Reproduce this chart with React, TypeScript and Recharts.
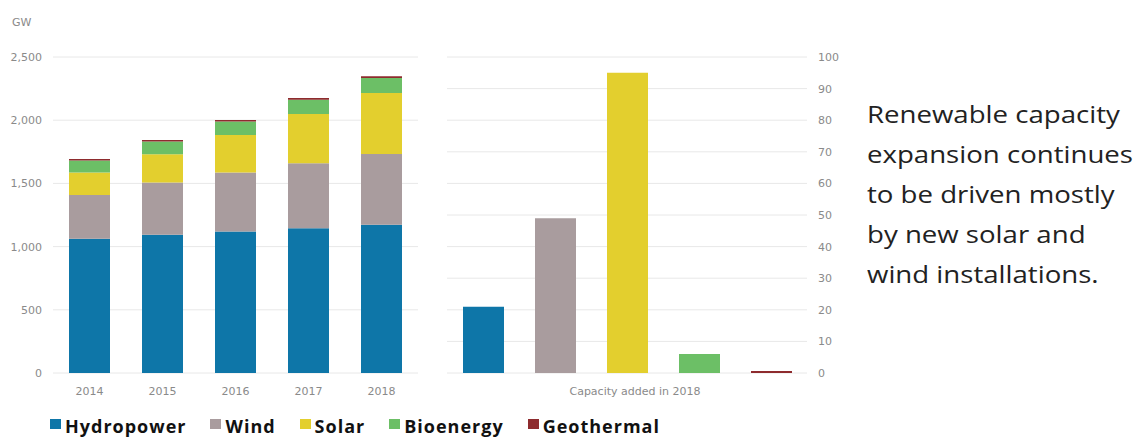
import { BarChart, Bar, XAxis, YAxis, CartesianGrid } from 'recharts'

const years = ['2014', '2015', '2016', '2017', '2018']
const hydropower = [1062, 1093, 1120, 1146, 1172]
const wind = [347, 414, 467, 513, 560]
const solar = [177, 224, 296, 390, 484]
const bioenergy = [95, 100, 106, 112, 118]
const geothermal = [12, 13, 13, 14, 14]

// GW added during 2018, same order as the series list
const addedLabel = 'Capacity added in 2018'
const added2018 = [21, 49, 95, 6, 0.6]

const totalTicks = [0, 500, 1000, 1500, 2000, 2500]
const addedTicks = [0, 10, 20, 30, 40, 50, 60, 70, 80, 90, 100]

const series = [
  { key: 'hydropower', name: 'Hydropower', color: '#0E76A8', values: hydropower },
  { key: 'wind', name: 'Wind', color: '#A99C9E', values: wind },
  { key: 'solar', name: 'Solar', color: '#E3CF2E', values: solar },
  { key: 'bioenergy', name: 'Bioenergy', color: '#6CBF66', values: bioenergy },
  { key: 'geothermal', name: 'Geothermal', color: '#8E2B2E', values: geothermal },
]

const totalData = years.map((year, i) => {
  const row: Record<string, string | number> = { year }
  series.forEach((s) => (row[s.key] = s.values[i]))
  return row
})

const addedRow: Record<string, string | number> = { label: addedLabel }
series.forEach((s, i) => (addedRow[s.key] = added2018[i]))
const addedData = [addedRow]

const tickStyle = { fill: '#8a8a8a', fontSize: 11, fontFamily: 'DejaVu Sans' }
const gridColor = '#e8e8e8'

const note = [
  'Renewable capacity',
  'expansion continues',
  'to be driven mostly',
  'by new solar and',
  'wind installations.',
]

export default function App() {
  return (
    <div
      style={{
        position: 'absolute',
        left: 0,
        top: 0,
        width: 1137,
        height: 439,
        background: '#fff',
        overflow: 'hidden',
      }}
    >
      <div
        style={{
          position: 'absolute',
          left: 12,
          top: 16,
          ...tickStyle,
          color: '#8a8a8a',
        }}
      >
        GW
      </div>

      <div style={{ position: 'absolute', left: 0, top: 0 }}>
        <BarChart
          width={420}
          height={410}
          data={totalData}
          margin={{ top: 57, right: 2, left: 0, bottom: 7 }}
        >
          <CartesianGrid vertical={false} stroke={gridColor} />
          <XAxis
            dataKey="year"
            tickLine={false}
            axisLine={false}
            tickMargin={8}
            height={30}
            tick={tickStyle}
          />
          <YAxis
            domain={[0, 2500]}
            ticks={totalTicks}
            width={53}
            tickLine={false}
            axisLine={false}
            tickMargin={5}
            tick={tickStyle}
            tickFormatter={(v: number) => v.toLocaleString('en-US')}
          />
          {series.map((s) => (
            <Bar
              key={s.key}
              dataKey={s.key}
              name={s.name}
              stackId="total"
              fill={s.color}
              barSize={41}
              isAnimationActive={false}
            />
          ))}
        </BarChart>
      </div>

      <div style={{ position: 'absolute', left: 447, top: 0 }}>
        <BarChart
          width={400}
          height={410}
          data={addedData}
          barGap={31}
          margin={{ top: 57, right: 0, left: 0, bottom: 7 }}
        >
          <CartesianGrid vertical={false} stroke={gridColor} />
          <XAxis
            dataKey="label"
            tickLine={false}
            axisLine={false}
            tickMargin={8}
            height={30}
            tick={{ ...tickStyle, dx: 8 }}
          />
          <YAxis
            orientation="right"
            domain={[0, 100]}
            ticks={addedTicks}
            width={40}
            tickLine={false}
            axisLine={false}
            tickMargin={5}
            tick={tickStyle}
          />
          {series.map((s) => (
            <Bar
              key={s.key}
              dataKey={s.key}
              name={s.name}
              fill={s.color}
              barSize={41}
              isAnimationActive={false}
            />
          ))}
        </BarChart>
      </div>

      <div
        style={{
          position: 'absolute',
          left: 867,
          top: 94,
          fontFamily: 'Open Sans',
          fontSize: 23,
          lineHeight: '40px',
          color: '#222',
          whiteSpace: 'nowrap',
          transform: 'scaleX(1.2)',
          transformOrigin: 'left top',
        }}
      >
        {note.map((line) => (
          <div key={line}>{line}</div>
        ))}
      </div>

      <div
        style={{
          position: 'absolute',
          left: 50,
          top: 414,
          display: 'flex',
          alignItems: 'center',
          fontFamily: 'Open Sans',
          fontWeight: 700,
          fontSize: 18,
          letterSpacing: 1,
          color: '#111',
        }}
      >
        {series.map((s) => (
          <div
            key={s.key}
            style={{ display: 'flex', alignItems: 'center', marginRight: 24 }}
          >
            <span
              style={{
                display: 'inline-block',
                width: 11,
                height: 10,
                background: s.color,
                marginRight: 4,
                marginTop: -4,
              }}
            />
            <span>{s.name}</span>
          </div>
        ))}
      </div>
    </div>
  )
}
